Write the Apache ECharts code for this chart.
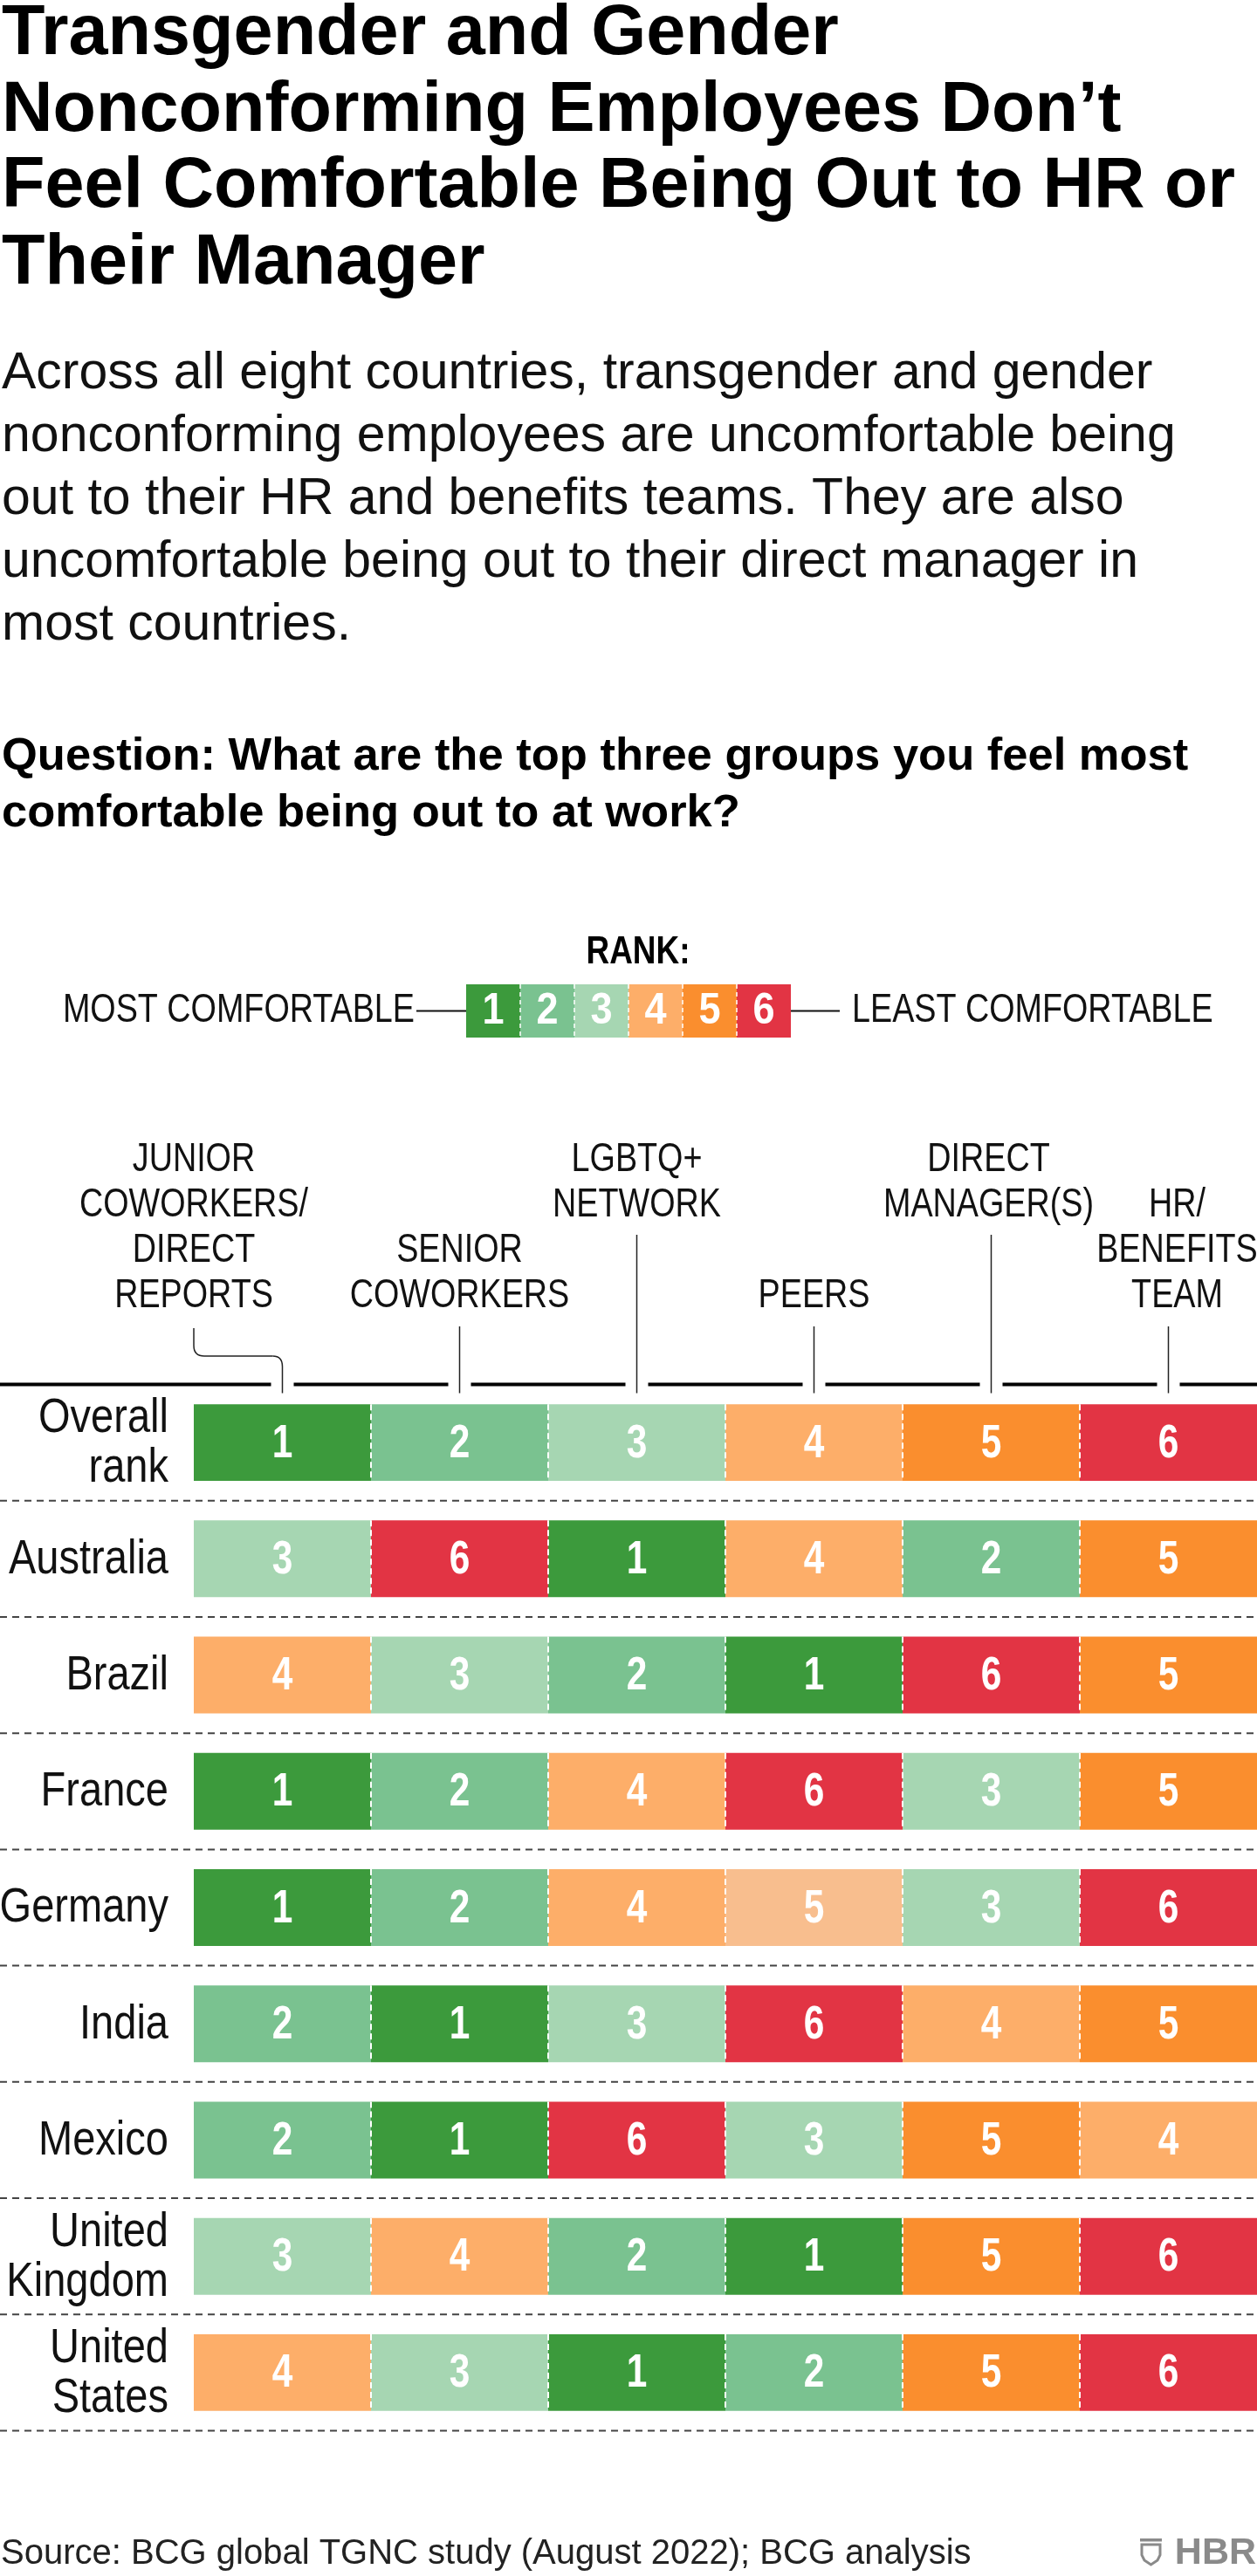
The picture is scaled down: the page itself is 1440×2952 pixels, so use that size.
<!DOCTYPE html>
<html>
<head>
<meta charset="utf-8">
<script src="https://cdn.jsdelivr.net/npm/echarts@6/dist/echarts.min.js"></script>
<style>
html,body{margin:0;padding:0;background:#fff;}
#chart{width:1440px;height:2952px;}
</style>
</head>
<body>
<div id="chart"></div>
<script>
// ---------- data ----------
const groups = ['JUNIOR\nCOWORKERS/\nDIRECT\nREPORTS', 'SENIOR\nCOWORKERS', 'LGBTQ+\nNETWORK', 'PEERS', 'DIRECT\nMANAGER(S)', 'HR/\nBENEFITS\nTEAM'];
const rowLabels = ['Overall\nrank', 'Australia', 'Brazil', 'France', 'Germany', 'India', 'Mexico', 'United\nKingdom', 'United\nStates'];
const overallRank   = [1, 2, 3, 4, 5, 6];
const australiaRank = [3, 6, 1, 4, 2, 5];
const brazilRank    = [4, 3, 2, 1, 6, 5];
const franceRank    = [1, 2, 4, 6, 3, 5];
const germanyRank   = [1, 2, 4, 5, 3, 6];
const indiaRank     = [2, 1, 3, 6, 4, 5];
const mexicoRank    = [2, 1, 6, 3, 5, 4];
const ukRank        = [3, 4, 2, 1, 5, 6];
const usRank        = [4, 3, 1, 2, 5, 6];
const legendRanks   = [1, 2, 3, 4, 5, 6];

const titleLines = ['Transgender and Gender', 'Nonconforming Employees Don\u2019t', 'Feel Comfortable Being Out to HR or', 'Their Manager'];
const subtitleLines = ['Across all eight countries, transgender and gender', 'nonconforming employees are uncomfortable being', 'out to their HR and benefits teams. They are also', 'uncomfortable being out to their direct manager in', 'most countries.'];
const questionLines = ['Question: What are the top three groups you feel most', 'comfortable being out to at work?'];
const sourceText = 'Source: BCG global TGNC study (August 2022); BCG analysis';

// ---------- styles ----------
const rankColors = {1: '#3C9A3C', 2: '#7AC290', 3: '#A6D6B2', 4: '#FDAE69', 5: '#FA8E2E', 6: '#E23444'};
const fadedColor = '#F8BE8E';
const SANS = '"Liberation Sans", Arial, sans-serif';
const NARROW_SCALE = 0.82; // Liberation Sans squeezed horizontally ~ Arial Narrow

const allRows = [overallRank, australiaRank, brazilRank, franceRank, germanyRank, indiaRank, mexicoRank, ukRank, usRank];
const cellData = [];
allRows.forEach((arr, r) => arr.forEach((v, c) => cellData.push([c, r, v])));

const chart = echarts.init(document.getElementById('chart'), null, {renderer: 'canvas', width: 1440, height: 2952});

function cellColor(c, r, rank) {
  // the Germany / Peers cell is shown in a paler tone in the original
  if (rowLabels[r] === 'Germany' && groups[c] === 'PEERS') return fadedColor;
  return rankColors[rank];
}

function renderCell(params, api) {
  const c = api.value(0), r = api.value(1), rank = api.value(2);
  const ctr = api.coord([c, r]);
  const sz = api.size([1, 1]);
  const w = sz[0], h = sz[1] * 0.66;
  const x0 = ctr[0] - w / 2, y0 = ctr[1] - h / 2;
  const children = [
    {type: 'rect', shape: {x: x0, y: y0, width: w, height: h}, style: {fill: cellColor(c, r, rank)}},
    {type: 'text', x: ctr[0], y: ctr[1] + 2, scaleX: 0.8,
      style: {text: String(rank), x: 0, y: 0, align: 'center', verticalAlign: 'middle',
      textAlign: 'center', textVerticalAlign: 'middle', fill: '#fff', fontSize: 53, fontWeight: 'bold', fontFamily: SANS}}
  ];
  if (c > 0) {
    children.push({type: 'line', shape: {x1: x0, y1: y0, x2: x0, y2: y0 + h},
      style: {stroke: '#fff', lineWidth: 2, lineDash: [7, 4]}});
  }
  return {type: 'group', children: children};
}

chart.setOption({
  animation: false,
  backgroundColor: '#fff',
  grid: {left: 222, right: 0, top: 1586.5, bottom: 166.5, containLabel: false, outerBoundsMode: 'none'},
  xAxis: {type: 'category', data: groups, position: 'top', show: false},
  yAxis: {
    type: 'category', data: rowLabels, inverse: true,
    axisLine: {show: false}, axisTick: {show: false}, splitLine: {show: false}, axisLabel: {show: false}
  },
  series: [{type: 'custom', renderItem: renderCell, data: cellData, encode: {x: 0, y: 1}, clip: false}]
});

// ---------- annotations positioned through the axes ----------
const colX = groups.map(gname => chart.convertToPixel({xAxisIndex: 0}, gname));
const rowY = rowLabels.map(l => chart.convertToPixel({yAxisIndex: 0}, l));
const band = rowY[1] - rowY[0];
const headerY = rowY[0] - band / 2;
const g = [];

function narrowText(text, x, y, size, align, vAlign, extra, scale) {
  return {type: 'text', x: x, y: y, scaleX: scale || NARROW_SCALE, z: 20,
    style: Object.assign({text: text, x: 0, y: 0, fill: '#111', fontFamily: SANS, fontSize: size,
      align: align, verticalAlign: vAlign, textAlign: align, textVerticalAlign: vAlign}, extra || {})};
}

// title / subtitle / question
g.push({type: 'text', style: {text: titleLines.join('\n'), x: 2, y: -4, fill: '#000', fontFamily: SANS, fontWeight: 'bold',
  fontSize: 81, lineHeight: 87.5, align: 'left', verticalAlign: 'top', textAlign: 'left', textVerticalAlign: 'top'}});
g.push({type: 'text', style: {text: subtitleLines.join('\n'), x: 2, y: 393, fill: '#111', fontFamily: SANS,
  fontSize: 59, lineHeight: 72, align: 'left', verticalAlign: 'top', textAlign: 'left', textVerticalAlign: 'top'}});
g.push({type: 'text', style: {text: questionLines.join('\n'), x: 2, y: 835, fill: '#000', fontFamily: SANS, fontWeight: 'bold',
  fontSize: 52.5, lineHeight: 65, align: 'left', verticalAlign: 'top', textAlign: 'left', textVerticalAlign: 'top'}});

// legend
const lgX0 = 534, lgW = 62, lgY = 1128, lgH = 61;
g.push(narrowText('RANK:', lgX0 + lgW * 3 + 11, 1092, 45, 'center', 'middle', {fill: '#000', fontWeight: 'bold'}));
legendRanks.forEach((rk, i) => {
  const x = lgX0 + i * lgW;
  g.push({type: 'rect', shape: {x: x, y: lgY, width: lgW, height: lgH}, style: {fill: rankColors[rk]}});
  g.push({type: 'text', z: 10, x: x + lgW / 2, y: lgY + lgH / 2 + 1, scaleX: 0.9,
    style: {text: String(rk), x: 0, y: 0, fill: '#fff', fontFamily: SANS, fontWeight: 'bold',
    fontSize: 50, align: 'center', verticalAlign: 'middle', textAlign: 'center', textVerticalAlign: 'middle'}});
  if (i > 0) g.push({type: 'line', z: 10, shape: {x1: x, y1: lgY, x2: x, y2: lgY + lgH}, style: {stroke: '#fff', lineWidth: 1.5, lineDash: [5, 4]}});
});
const lgMid = lgY + lgH / 2;
g.push({type: 'line', shape: {x1: 477, y1: lgMid, x2: lgX0, y2: lgMid}, style: {stroke: '#111', lineWidth: 2}});
g.push({type: 'line', shape: {x1: lgX0 + lgW * 6, y1: lgMid, x2: 962, y2: lgMid}, style: {stroke: '#111', lineWidth: 2}});
g.push(narrowText('MOST COMFORTABLE', 475, lgMid, 46, 'right', 'middle'));
g.push(narrowText('LEAST COMFORTABLE', 976, lgMid, 46, 'left', 'middle'));

// column headers
const raised = [false, false, true, false, true, false];
const labelOffset = [-(colX[1] - colX[0]) / 2, 0, 0, 0, -3, 10];
const lineBottom = headerY + 10;
groups.forEach((name, i) => {
  const bottom = raised[i] ? 1407 : 1511;
  g.push(narrowText(name, colX[i] + labelOffset[i], bottom, 46, 'center', 'bottom', {lineHeight: 52}));
  if (i === 0) {
    const lx = colX[0] + labelOffset[0], cx = colX[0];
    const st = {stroke: '#222', lineWidth: 1.5};
    g.push({type: 'line', shape: {x1: lx, y1: 1522, x2: lx, y2: 1542}, style: st});
    g.push({type: 'bezierCurve', shape: {x1: lx, y1: 1542, cpx1: lx, cpy1: 1554, x2: lx + 12, y2: 1554}, style: Object.assign({fill: null}, st)});
    g.push({type: 'line', shape: {x1: lx + 12, y1: 1554, x2: cx - 11, y2: 1554}, style: st});
    g.push({type: 'bezierCurve', shape: {x1: cx - 11, y1: 1554, cpx1: cx, cpy1: 1554, x2: cx, y2: 1566}, style: Object.assign({fill: null}, st)});
    g.push({type: 'line', shape: {x1: cx, y1: 1566, x2: cx, y2: lineBottom}, style: st});
  } else {
    g.push({type: 'line', shape: {x1: colX[i], y1: raised[i] ? 1415 : 1520, x2: colX[i], y2: lineBottom},
      style: {stroke: '#222', lineWidth: 1.5}});
  }
});
// thick header rule, broken at each leader line
const gap = 13;
const segEdges = [0];
colX.forEach(x => { segEdges.push(x - gap); segEdges.push(x + gap); });
segEdges.push(1440);
for (let k = 0; k < segEdges.length; k += 2) {
  g.push({type: 'line', shape: {x1: segEdges[k], y1: headerY, x2: segEdges[k + 1], y2: headerY}, style: {stroke: '#000', lineWidth: 4}});
}
// row labels and dashed separators below each row
rowY.forEach((y, r) => {
  g.push(narrowText(rowLabels[r], 193, y + 1, 56, 'right', 'middle', {lineHeight: 57}, 0.84));
  const yy = y + band / 2;
  g.push({type: 'line', shape: {x1: 0, y1: yy, x2: 1440, y2: yy}, style: {stroke: '#444', lineWidth: 2, lineDash: [8, 6]}});
});

// source + logo
g.push({type: 'text', style: {text: sourceText, x: 1, y: 2927, fill: '#222', fontFamily: SANS, fontSize: 40,
  align: 'left', verticalAlign: 'middle', textAlign: 'left', textVerticalAlign: 'middle'}});
g.push({type: 'text', style: {text: 'HBR', x: 1439, y: 2926, fill: '#8a8a8a', fontFamily: SANS, fontWeight: 'bold', fontSize: 43,
  align: 'right', verticalAlign: 'middle', textAlign: 'right', textVerticalAlign: 'middle'}});
g.push({type: 'rect', shape: {x: 1306, y: 2909, width: 25, height: 3.5}, style: {fill: '#8a8a8a'}});
g.push({type: 'polygon', shape: {points: [[1308, 2916], [1308, 2928], [1311, 2934], [1318.5, 2939], [1326, 2934], [1329, 2928], [1329, 2916]]},
  style: {stroke: '#8a8a8a', lineWidth: 3, fill: null}});

chart.setOption({graphic: {elements: g}});
</script>
</body>
</html>
